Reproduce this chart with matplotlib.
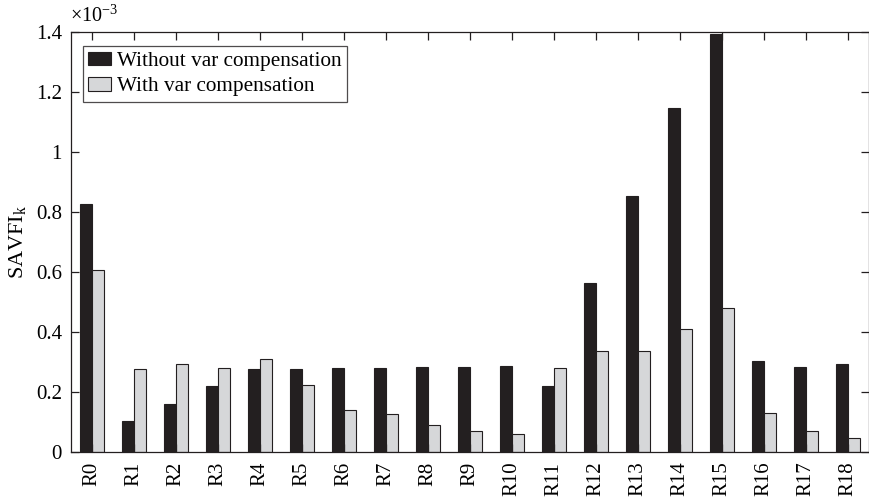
import matplotlib
matplotlib.use("Agg")
import matplotlib.pyplot as plt
import numpy as np
from matplotlib.ticker import FuncFormatter

plt.rcParams['font.family'] = ['Liberation Serif', 'DejaVu Serif']
plt.rcParams['mathtext.fontset'] = 'custom'
plt.rcParams['mathtext.rm'] = 'Liberation Serif'
plt.rcParams['mathtext.it'] = 'Liberation Serif:italic'

categories = ['R0', 'R1', 'R2', 'R3', 'R4', 'R5', 'R6', 'R7', 'R8', 'R9',
              'R10', 'R11', 'R12', 'R13', 'R14', 'R15', 'R16', 'R17', 'R18']
without_comp = [0.828, 0.105, 0.161, 0.220, 0.278, 0.278, 0.281, 0.281, 0.284, 0.284,
                0.286, 0.221, 0.565, 0.854, 1.148, 1.395, 0.303, 0.284, 0.295]
with_comp = [0.606, 0.277, 0.294, 0.280, 0.311, 0.225, 0.141, 0.126, 0.090, 0.069,
             0.059, 0.279, 0.337, 0.337, 0.410, 0.481, 0.130, 0.069, 0.048]
scale = 1e-3
series_labels = ['Without var compensation', 'With var compensation']
yticks = [0, 0.2, 0.4, 0.6, 0.8, 1.0, 1.2, 1.4]

fig = plt.figure(figsize=(8.7, 5.03), dpi=100)
ax = fig.add_axes([71/870, 1 - 452/503, (869.3 - 71)/870, (452 - 32.3)/503])

x = np.arange(len(categories))
w = 0.2857
ax.bar(x - w/2, np.array(without_comp) * scale, width=w, color='#231f20',
       edgecolor='#231f20', linewidth=0.8, label=series_labels[0])
ax.bar(x + w/2, np.array(with_comp) * scale, width=w, color='#d6d7d9',
       edgecolor='#231f20', linewidth=0.8, label=series_labels[1])

ax.set_xlim(-0.5, len(categories) - 0.5)
ax.set_ylim(0, 1.4e-3)
ax.set_xticks(x)
ax.set_xticklabels(categories, rotation=90, fontsize=15)
ax.set_yticks([v * scale for v in yticks])
ax.yaxis.set_major_formatter(FuncFormatter(lambda v, p: '%g' % round(v / scale, 3)))
ax.tick_params(axis='y', labelsize=15, pad=6.5)
ax.tick_params(direction='in', length=6, width=0.9, top=True, right=True, color='#231f20')
ax.tick_params(axis='x', pad=7)
for s in ax.spines.values():
    s.set_linewidth(0.9)
    s.set_color('#231f20')

ax.text(-0.001, 1.012, r'$\times10^{-3}$', transform=ax.transAxes, fontsize=14.5,
        ha='left', va='bottom')
ax.set_ylabel(r'SAVFI$_\mathrm{k}$', fontsize=16, labelpad=6)

leg = ax.legend(loc='upper left', fontsize=15.3, frameon=True, fancybox=False,
                borderpad=0.25, labelspacing=0.3, handlelength=1.05, handleheight=0.6,
                handletextpad=0.3, borderaxespad=0.0,
                bbox_to_anchor=(12/798.3, 1 - 14/419.7))
leg.get_frame().set_edgecolor('#231f20')
leg.get_frame().set_linewidth(0.9)

fig.savefig('out.png', dpi=100)
